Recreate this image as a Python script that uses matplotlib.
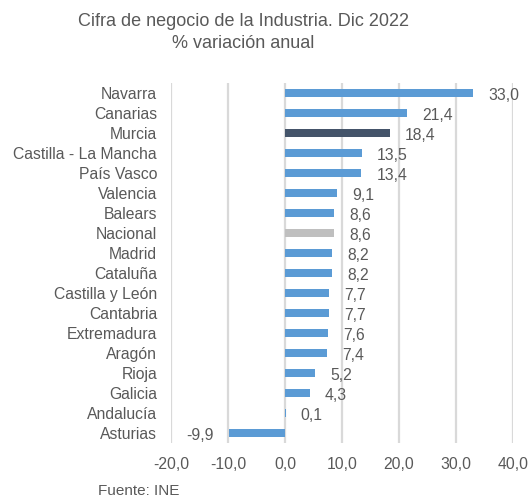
import matplotlib.pyplot as plt

plt.rcParams['font.family'] = ['Liberation Sans', 'DejaVu Sans']

regiones = ['Navarra', 'Canarias', 'Murcia', 'Castilla - La Mancha', 'País Vasco',
            'Valencia', 'Balears', 'Nacional', 'Madrid', 'Cataluña',
            'Castilla y León', 'Cantabria', 'Extremadura', 'Aragón', 'Rioja',
            'Galicia', 'Andalucía', 'Asturias']
valores = [33.0, 21.4, 18.4, 13.5, 13.4, 9.1, 8.6, 8.6, 8.2, 8.2,
           7.7, 7.7, 7.6, 7.4, 5.2, 4.3, 0.1, -9.9]
xticks = [-20, -10, 0, 10, 20, 30, 40]

azul = '#5B9BD5'
colores = [azul] * len(regiones)
colores[regiones.index('Murcia')] = '#44546A'
colores[regiones.index('Nacional')] = '#BFBFBF'
txt = '#595959'
fs = 11.3

fig = plt.figure(figsize=(5.3, 4.97), dpi=100)
ax = fig.add_axes([171/530, 1-443/497, (513-171)/530, (443-83)/497])

y = list(range(len(regiones)))
ax.barh(y, valores, height=0.42, color=colores, zorder=3)
ax.set_ylim(len(regiones)-0.5, -0.5)
ax.set_xlim(-20, 40)
ax.set_yticks(y)
ax.set_yticklabels(regiones, fontsize=fs, color=txt)
ax.set_xticks(xticks)
ax.set_xticklabels([f'{v:.1f}'.replace('.', ',') for v in xticks], fontsize=fs, color=txt)
ax.tick_params(length=0, pad=10)
ax.tick_params(axis='x', pad=10)
for s in ax.spines.values():
    s.set_visible(False)
ax.grid(axis='x', color='#D9D9D9', lw=1.6, zorder=0)

for yi, v in zip(y, valores):
    lab = f'{v:.1f}'.replace('.', ',')
    if v >= 0:
        ax.annotate(lab, (v, yi), xytext=(11, -2), textcoords='offset points',
                    ha='left', va='center', fontsize=fs, color=txt)
    else:
        ax.annotate(lab, (v, yi), xytext=(-11, -2), textcoords='offset points',
                    ha='right', va='center', fontsize=fs, color=txt)

fig.text(243/530, 1-21/497, 'Cifra de negocio de la Industria. Dic 2022',
         ha='center', va='center', fontsize=13, color=txt)
fig.text(243/530, 1-44/497, '% variación anual',
         ha='center', va='center', fontsize=13, color=txt)
fig.text(98/530, 1-491/497, 'Fuente: INE', ha='left', va='center', fontsize=11, color=txt)

fig.savefig('out.png', dpi=100)
